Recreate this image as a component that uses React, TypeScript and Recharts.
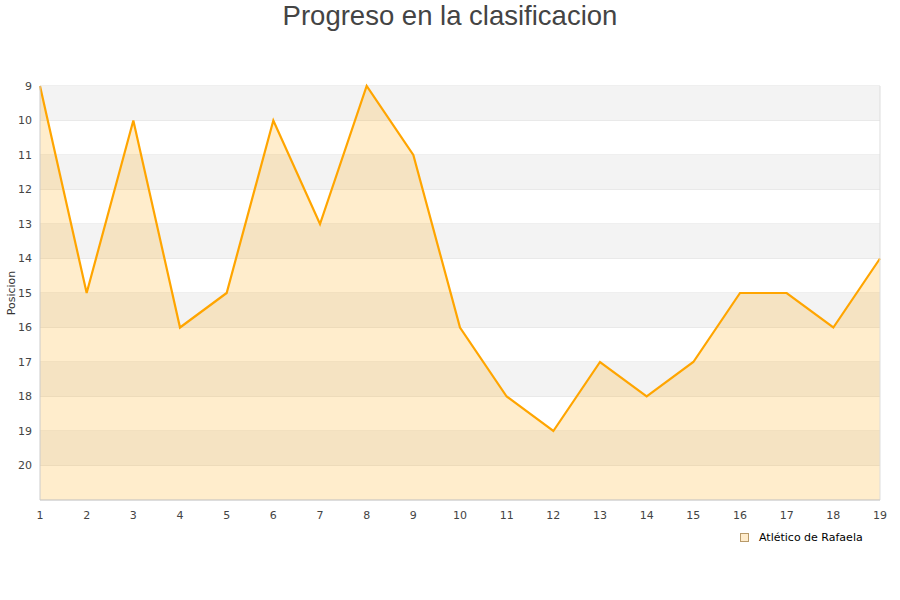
import React from 'react';
import {
  ComposedChart,
  Area,
  XAxis,
  YAxis,
  CartesianGrid,
  ReferenceArea,
  ReferenceLine,
} from 'recharts';

// ─── Data ─────────────────────────────────────────────────────────────────────

const rounds = [1, 2, 3, 4, 5, 6, 7, 8, 9, 10, 11, 12, 13, 14, 15, 16, 17, 18, 19];
const positions = [9, 15, 10, 16, 15, 10, 13, 9, 11, 16, 18, 19, 17, 18, 17, 15, 15, 16, 14];
const yTicks = [9, 10, 11, 12, 13, 14, 15, 16, 17, 18, 19, 20, 21];
const shadedBands = [9, 11, 13, 15, 17, 19];

const teamName = 'Atlético de Rafaela';
const title = 'Progreso en la clasificacion';

const rows = rounds.map((r, i) => ({ round: r, pos: positions[i] }));

const tickStyle = { fontSize: 11, fill: '#444', fontFamily: 'DejaVu Sans' };

export default function App() {
  return (
    <div style={{ position: 'absolute', left: 0, top: 0, width: 900, height: 600, background: '#fff' }}>
      <div
        style={{
          position: 'absolute',
          top: 0,
          left: 0,
          width: 900,
          textAlign: 'center',
          fontFamily: 'Liberation Sans, Arial, sans-serif',
          fontSize: 27.5,
          color: '#444',
          lineHeight: '32px',
        }}
      >
        {title}
      </div>

      <ComposedChart
        width={900}
        height={600}
        data={rows}
        margin={{ top: 86, right: 20, bottom: 70, left: 0 }}
      >
        {shadedBands.map((b) => (
          <ReferenceArea key={b} y1={b} y2={b + 1} fill="#f3f3f3" fillOpacity={1} stroke="none" />
        ))}
        <CartesianGrid vertical={false} stroke="#dedede" />
        <XAxis
          dataKey="round"
          type="number"
          domain={[1, 19]}
          ticks={rounds}
          tick={tickStyle}
          tickLine={false}
          tickMargin={5}
          axisLine={{ stroke: '#ccc' }}
          height={30}
        />
        <YAxis
          type="number"
          reversed
          domain={[9, 21]}
          ticks={yTicks}
          interval={0}
          tickFormatter={(v) => (v === 21 ? '' : String(v))}
          tick={tickStyle}
          tickLine={false}
          axisLine={{ stroke: '#ccc' }}
          width={40}
          label={{
            value: 'Posicion',
            angle: -90,
            position: 'insideLeft',
            dx: 6,
            style: { fontSize: 11, fill: '#333', fontFamily: 'DejaVu Sans', textAnchor: 'middle' },
          }}
        />
        <ReferenceLine x={19} stroke="#ddd" />
        <Area
          type="linear"
          dataKey="pos"
          baseValue="dataMax"
          stroke="#ffa500"
          strokeWidth={2.2}
          fill="#ffa500"
          fillOpacity={0.2}
          dot={false}
          activeDot={false}
          isAnimationActive={false}
        />
      </ComposedChart>

      <div
        style={{
          position: 'absolute',
          left: 740,
          top: 531,
          display: 'flex',
          alignItems: 'center',
          fontFamily: 'DejaVu Sans',
          fontSize: 11,
          color: '#000',
        }}
      >
        <span
          style={{
            display: 'inline-block',
            width: 7,
            height: 7,
            background: '#ffeccc',
            border: '1px solid #b89a6a',
            marginRight: 10,
          }}
        />
        {teamName}
      </div>
    </div>
  );
}
